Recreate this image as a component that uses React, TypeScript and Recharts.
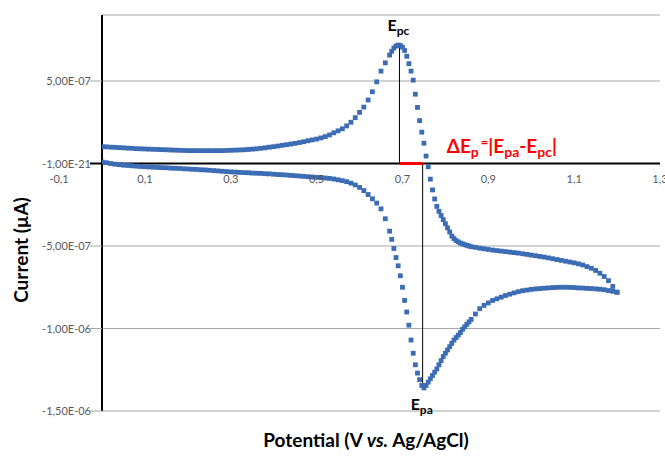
import {
  ScatterChart,
  Scatter,
  XAxis,
  YAxis,
  CartesianGrid,
  ReferenceLine,
  ReferenceDot,
} from 'recharts';

// potential grid (V vs. Ag/AgCl), finer around the steep peaks
const potential = [
  0, 0.01, 0.02, 0.03, 0.04, 0.05, 0.06, 0.07, 0.08, 0.09,
  0.1, 0.11, 0.12, 0.13, 0.14, 0.15, 0.16, 0.17, 0.18, 0.19,
  0.2, 0.21, 0.22, 0.23, 0.24, 0.25, 0.26, 0.27, 0.28, 0.29,
  0.3, 0.31, 0.32, 0.33, 0.34, 0.35, 0.36, 0.37, 0.38, 0.39,
  0.4, 0.41, 0.42, 0.43, 0.44, 0.45, 0.46, 0.47, 0.48, 0.49,
  0.5, 0.51, 0.52, 0.53, 0.54, 0.55, 0.56, 0.57, 0.58, 0.59,
  0.6, 0.61, 0.62, 0.63, 0.64, 0.65, 0.66, 0.67,
  0.675, 0.68, 0.685, 0.69, 0.695,
  0.7, 0.705, 0.71, 0.715, 0.72, 0.725, 0.73, 0.735, 0.74, 0.745,
  0.75, 0.755, 0.76, 0.765, 0.77, 0.775, 0.78, 0.785, 0.79, 0.795,
  0.8, 0.805, 0.81, 0.815, 0.82, 0.825, 0.83, 0.835, 0.84, 0.845,
  0.85, 0.855,
  0.86, 0.87, 0.88, 0.89,
  0.9, 0.91, 0.92, 0.93, 0.94, 0.95, 0.96, 0.97, 0.98, 0.99,
  1.0, 1.01, 1.02, 1.03, 1.04, 1.05, 1.06, 1.07, 1.08, 1.09,
  1.1, 1.11, 1.12, 1.13, 1.14, 1.15, 1.16, 1.17, 1.18, 1.19,
  1.2,
];

// current in units of 1e-7 A, lower (forward) branch
const forwardScan = [
  0.10, 0.05, 0.00, -0.04, -0.07, -0.10, -0.12, -0.14, -0.16, -0.18,
  -0.19, -0.21, -0.22, -0.24, -0.25, -0.26, -0.28, -0.29, -0.30, -0.32,
  -0.33, -0.35, -0.36, -0.38, -0.39, -0.41, -0.43, -0.45, -0.47, -0.49,
  -0.51, -0.52, -0.54, -0.55, -0.56, -0.58, -0.59, -0.60, -0.62, -0.63,
  -0.65, -0.67, -0.68, -0.70, -0.72, -0.74, -0.76, -0.78, -0.80, -0.82,
  -0.84, -0.86, -0.88, -0.90, -0.94, -0.99, -1.04, -1.10, -1.19, -1.30,
  -1.45, -1.64, -1.88, -2.14, -2.40, -2.75, -3.35, -4.10,
  -4.60, -5.15, -5.70, -6.20, -6.80,
  -7.50, -8.30, -9.00, -9.80, -10.70, -11.50, -12.20, -12.70, -13.10, -13.45,
  -13.60, -13.45, -13.25, -13.05, -12.85, -12.65, -12.45, -12.20, -11.95, -11.70,
  -11.50, -11.30, -11.10, -10.90, -10.70, -10.55, -10.40, -10.25, -10.05, -9.90,
  -9.75, -9.60,
  -9.45, -9.12, -8.80, -8.60,
  -8.45, -8.30, -8.20, -8.10, -8.00, -7.92, -7.84, -7.77, -7.71, -7.67,
  -7.63, -7.60, -7.58, -7.56, -7.54, -7.52, -7.51, -7.50, -7.50, -7.51,
  -7.52, -7.54, -7.55, -7.57, -7.58, -7.60, -7.62, -7.65, -7.70, -7.75,
  -7.80,
];

// current in units of 1e-7 A, upper (reverse) branch
const reverseScan = [
  1.02, 1.01, 0.99, 0.98, 0.96, 0.95, 0.93, 0.92, 0.90, 0.89,
  0.88, 0.87, 0.86, 0.85, 0.84, 0.83, 0.82, 0.81, 0.80, 0.79,
  0.78, 0.78, 0.78, 0.78, 0.78, 0.78, 0.78, 0.78, 0.78, 0.79,
  0.80, 0.81, 0.82, 0.83, 0.85, 0.87, 0.89, 0.92, 0.95, 0.99,
  1.02, 1.06, 1.10, 1.14, 1.18, 1.22, 1.27, 1.32, 1.38, 1.43,
  1.48, 1.55, 1.63, 1.73, 1.86, 1.98, 2.10, 2.28, 2.50, 2.78,
  3.10, 3.42, 3.85, 4.35, 4.95, 5.60, 6.10, 6.57,
  6.80, 7.00, 7.12, 7.18, 7.15,
  7.05, 6.85, 6.50, 6.05, 5.60, 5.05, 4.20, 3.40, 2.60, 1.90,
  1.23, 0.45, -0.20, -0.95, -1.60, -2.15, -2.60, -2.90, -3.15, -3.40,
  -3.65, -3.90, -4.15, -4.40, -4.55, -4.67, -4.75, -4.82, -4.87, -4.92,
  -4.96, -5.00,
  -5.04, -5.08, -5.13, -5.17,
  -5.21, -5.25, -5.28, -5.31, -5.34, -5.37, -5.40, -5.43, -5.47, -5.51,
  -5.55, -5.59, -5.63, -5.67, -5.72, -5.77, -5.82, -5.87, -5.92, -5.97,
  -6.02, -6.08, -6.15, -6.25, -6.35, -6.48, -6.65, -6.85, -7.10, -7.45,
  -7.80,
];

const xTicks = [-0.1, 0.1, 0.3, 0.5, 0.7, 0.9, 1.1, 1.3];
const xTickLabels = ['-0,1', '0,1', '0,3', '0,5', '0,7', '0,9', '1,1', '1,3'];
const yTicks = [-1.5e-6, -1e-6, -5e-7, 0, 5e-7];
const yTickLabels = ['-1,50E-06', '-1,00E-06', '-5,00E-07', '-1,00E-21', '5,00E-07'];

// peak positions: [potential, current in 1e-7 A]
const cathodicPeak = [0.693, 7.18];
const anodicPeak = [0.747, -13.6];

const forwardData = potential.map((p, i) => ({ potential: p, current: forwardScan[i] * 1e-7 }));
const reverseData = potential.map((p, i) => ({ potential: p, current: reverseScan[i] * 1e-7 }));

const FONT = 'Lato, "Open Sans", sans-serif';
const BLUE = '#3b6cb4';

const Square = (props: any) => (
  <rect x={props.cx - 2.4} y={props.cy - 2.4} width={4.8} height={4.8} fill={BLUE} />
);

function YTick({ x, y, payload }: any) {
  const i = yTicks.indexOf(payload.value);
  const zero = payload.value === 0;
  return (
    <g>
      <line x1={x} x2={x + 12} y1={y} y2={y} stroke={zero ? '#000' : '#a6a6a6'} strokeWidth={zero ? 2 : 1} />
      <text x={x + 1} y={y} dy={4} textAnchor="end" fontSize={11} fill="#595959" fontFamily={FONT}>
        {yTickLabels[i]}
      </text>
    </g>
  );
}

const peakLabel = (sub: string, below: boolean) => (props: any) => {
  const { x, y, width } = props.viewBox;
  const cx = x + width / 2;
  return (
    <text x={cx - 12} y={below ? y + 23 : y - 13} fontFamily={FONT} fontWeight={700} fontSize={16} fill="#000">
      E<tspan dy={4} fontSize={12}>{sub}</tspan>
    </text>
  );
};

const deltaLabel = (props: any) => {
  const { x, y, width } = props.viewBox;
  const cx = x + width / 2;
  return (
    <text x={cx + 24} y={y - 10} fontFamily={FONT} fontWeight={700} fontSize={19} fill="#ff0000">
      ΔE
      <tspan dy={4} fontSize={14}>p</tspan>
      <tspan dy={-10} dx={2} fontSize={13}>=</tspan>
      <tspan dy={6}>|E</tspan>
      <tspan dy={4} fontSize={14}>pa</tspan>
      <tspan dy={-4}>-E</tspan>
      <tspan dy={4} fontSize={14}>pc</tspan>
      <tspan dy={-4}>|</tspan>
    </text>
  );
};

export default function App() {
  return (
    <div style={{ position: 'absolute', left: 0, top: 0, width: 665, height: 457, background: '#fff' }}>
      <ScatterChart width={665} height={457} margin={{ top: 15, right: 5, bottom: 46, left: 0 }}>
        <CartesianGrid vertical={false} stroke="#a6a6a6" />
        <XAxis type="number" dataKey="potential" domain={[0, 1.3]} allowDataOverflow hide />
        <YAxis
          type="number"
          dataKey="current"
          domain={[-1.5e-6, 9e-7]}
          allowDataOverflow
          ticks={yTicks}
          width={102}
          tickSize={12}
          tickMargin={0}
          tickLine={false}
          axisLine={{ stroke: '#000', strokeWidth: 2 }}
          tick={<YTick />}
          interval={0}
        />
        <ReferenceLine y={0} stroke="#000" strokeWidth={2} />
        <ReferenceLine
          segment={[{ x: cathodicPeak[0], y: 0 }, { x: cathodicPeak[0], y: cathodicPeak[1] * 1e-7 }]}
          stroke="#000"
          strokeWidth={1}
        />
        <ReferenceLine
          segment={[{ x: anodicPeak[0], y: 0 }, { x: anodicPeak[0], y: anodicPeak[1] * 1e-7 }]}
          stroke="#000"
          strokeWidth={1}
        />
        <ReferenceLine
          segment={[{ x: cathodicPeak[0], y: 0 }, { x: anodicPeak[0], y: 0 }]}
          stroke="#ff0000"
          strokeWidth={3}
        />
        {xTicks.map((t, i) => (
          <ReferenceDot
            key={t}
            x={t}
            y={0}
            r={1}
            fill="none"
            stroke="none"
            ifOverflow="visible"
            label={{ value: xTickLabels[i], position: 'bottom', offset: 11, fontSize: 11, fill: '#595959', fontFamily: FONT }}
          />
        ))}
        <Scatter data={forwardData} shape={Square} isAnimationActive={false} />
        <Scatter data={reverseData} shape={Square} isAnimationActive={false} />
        <ReferenceDot x={cathodicPeak[0]} y={cathodicPeak[1] * 1e-7} r={1} fill="none" stroke="none" label={{ content: peakLabel('pc', false) }} />
        <ReferenceDot x={anodicPeak[0]} y={anodicPeak[1] * 1e-7} r={1} fill="none" stroke="none" label={{ content: peakLabel('pa', true) }} />
        <ReferenceDot x={anodicPeak[0]} y={0} r={1} fill="none" stroke="none" label={{ content: deltaLabel }} />
      </ScatterChart>
      <svg width={665} height={457} style={{ position: 'absolute', left: 0, top: 0, pointerEvents: 'none' }}>
        <text x={366} y={447} textAnchor="middle" fontFamily={FONT} fontWeight={700} fontSize={19} fill="#000">
          Potential (V <tspan fontStyle="italic">vs.</tspan> Ag/AgCl)
        </text>
        <text transform="translate(28, 250) rotate(-90)" textAnchor="middle" fontFamily={FONT} fontWeight={700} fontSize={19} fill="#000">
          Current (µA)
        </text>
      </svg>
    </div>
  );
}
